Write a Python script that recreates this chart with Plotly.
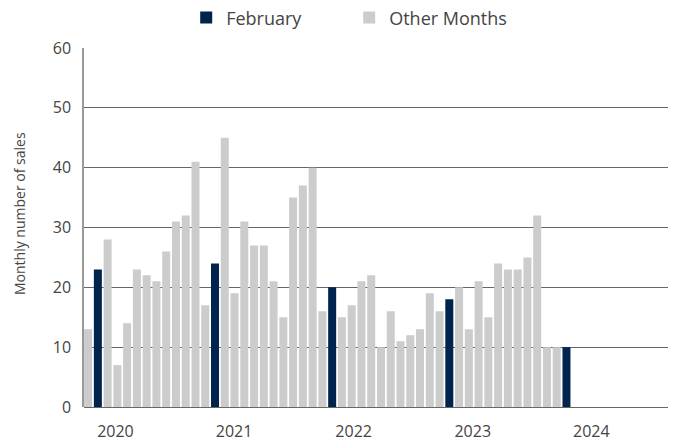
import plotly.graph_objects as go

months = [f"{y}-{m:02d}" for y in range(2020, 2025) for m in range(1, 13)][:50]
sales = [13, 23, 28, 7, 14, 23, 22, 21, 26, 31, 32, 41,
         17, 24, 45, 19, 31, 27, 27, 21, 15, 35, 37, 40,
         16, 20, 15, 17, 21, 22, 10, 16, 11, 12, 13, 19,
         16, 18, 20, 13, 21, 15, 24, 23, 23, 25, 32, 10,
         10, 10]
year_labels = ["2020", "2021", "2022", "2023", "2024"]
year_label_pos = [2.8, 14.95, 27.2, 39.4, 51.55]

feb_x, feb_y, oth_x, oth_y = [], [], [], []
for i, (m, v) in enumerate(zip(months, sales)):
    if m.endswith("-02"):
        feb_x.append(i); feb_y.append(v)
    else:
        oth_x.append(i); oth_y.append(v)

FONT = "Open Sans"
TXT = "#444444"
fig = go.Figure()
fig.add_trace(go.Bar(x=feb_x, y=feb_y, name="February", marker_color="#00244d",
                     width=0.82, marker_line_width=0))
fig.add_trace(go.Bar(x=oth_x, y=oth_y, name="Other Months", marker_color="#cccccc",
                     width=0.82, marker_line_width=0))

fig.update_layout(
    width=677, height=444,
    margin=dict(l=84, r=9, t=48, b=37, autoexpand=False),
    plot_bgcolor="white", paper_bgcolor="white",
    barmode="overlay",
    font=dict(family=FONT, size=16, color=TXT),
    legend=dict(orientation="h", x=0.175, xanchor="left", y=1.084, yanchor="middle",
                font=dict(size=18, color=TXT), traceorder="normal",
                itemwidth=30, entrywidth=118, bgcolor="rgba(0,0,0,0)"),
    showlegend=True,
)
fig.add_annotation(text="Monthly number of sales", textangle=-90, showarrow=False,
                   xref="paper", yref="paper", x=-0.1113, y=0.5376,
                   xanchor="center", yanchor="middle",
                   font=dict(size=14, color=TXT))
fig.update_xaxes(range=[-0.42, 59.4], tickmode="array", tickvals=year_label_pos,
                 ticktext=year_labels, showgrid=False, zeroline=False, automargin=False,
                 showline=False, ticks="", tickfont=dict(size=16, color=TXT),
                 ticklabelstandoff=13)
fig.update_yaxes(range=[0, 60], dtick=10, showgrid=True, gridcolor="#666666",
                 gridwidth=1, zeroline=True, zerolinecolor="#666666", zerolinewidth=1,
                 showline=True, linecolor="#999999", linewidth=1.5, automargin=False,
                 tickfont=dict(size=16, color=TXT), ticks="", ticklabelstandoff=8)

fig.write_html("out.html", config={"displayModeBar": False},
               post_script="document.body.style.margin='0px';")
